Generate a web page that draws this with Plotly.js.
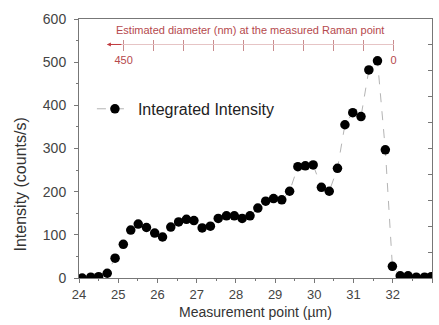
<!DOCTYPE html>
<html>
<head>
<meta charset="utf-8">
<script src="https://cdn.plot.ly/plotly-3.0.1.min.js"></script>
<style>html,body{margin:0;padding:0;background:#fff;}#chart{width:439px;height:325px;}</style>
</head>
<body>
<div id="chart"></div>
<script>
const positions = [24.08, 24.30, 24.50, 24.72, 24.92, 25.13, 25.32, 25.51, 25.72, 25.93,
  26.13, 26.34, 26.54, 26.74, 26.93, 27.14, 27.35, 27.55, 27.76, 27.96,
  28.16, 28.36, 28.56, 28.76, 28.96, 29.17, 29.37, 29.58, 29.77, 29.97,
  30.18, 30.38, 30.59, 30.78, 30.98, 31.19, 31.39, 31.61, 31.81, 31.99,
  32.19, 32.39, 32.60, 32.81, 32.98];
// Integrated intensity (counts/s)
const intensity = [0, 2, 3, 11, 46, 78, 111, 125, 117, 104,
  95, 118, 130, 136, 133, 116, 120, 138, 144, 144,
  138, 144, 162, 178, 184, 181, 201, 258, 260, 262,
  210, 201, 254, 355, 383, 374, 482, 503, 297, 27,
  5, 5, 2, 2, 3];
const seriesName = 'Integrated Intensity';
// Secondary (diameter) axis
const diameterTicks = [0, 50, 100, 150, 200, 250, 300, 350, 400, 450];
const diameterLabels = ['0', '', '', '', '', '', '', '', '', '450'];
const diameterRange = [478, 0];
const xRange = [24, 33];
const yRange = [0, 600];

const red = '#b5494d';
const font = 'Liberation Sans, Arial, sans-serif';

const traces = [
  {
    x: positions, y: intensity, name: seriesName, type: 'scatter', mode: 'lines+markers',
    line: {color: '#b4b4b4', width: 1, dash: 'dash'},
    marker: {color: '#000', size: 9.5},
    xaxis: 'x', yaxis: 'y'
  },
  {x: [], y: [], xaxis: 'x2', yaxis: 'y', showlegend: false, hoverinfo: 'skip', type: 'scatter'},
  {x: [], y: [], xaxis: 'x3', yaxis: 'y', showlegend: false, hoverinfo: 'skip', type: 'scatter'},
  {x: [], y: [], xaxis: 'x', yaxis: 'y2', showlegend: false, hoverinfo: 'skip', type: 'scatter'}
];

const topDomain = [0.079, 0.891];
const topPos = 0.9024;

const layout = {
  width: 439, height: 325,
  margin: {l: 79, r: 7, t: 19, b: 47},
  paper_bgcolor: '#fff', plot_bgcolor: 'rgba(0,0,0,0)',
  font: {family: font, color: '#444'},
  showlegend: true,
  legend: {x: 0.0366, y: 0.653, xanchor: 'left', yanchor: 'middle', bgcolor: 'rgba(0,0,0,0)',
           font: {size: 16, color: '#222'}, itemwidth: 36},
  xaxis: {
    range: xRange, dtick: 1, tick0: 24, ticks: 'outside', ticklen: 4, tickcolor: '#777',
    showline: true, linecolor: '#777', linewidth: 1, mirror: true,
    showgrid: false, zeroline: false,
    tickfont: {size: 13, color: '#444'},
    minor: {dtick: 0.5, ticks: 'outside', ticklen: 2, tickcolor: '#777', showgrid: false},
    title: {text: 'Measurement point (µm)', font: {size: 14, color: '#333'}, standoff: 6}
  },
  yaxis: {
    range: yRange, dtick: 100, ticks: 'outside', ticklen: 4, tickcolor: '#777',
    showline: true, linecolor: '#777', linewidth: 1, mirror: true,
    showgrid: false, zeroline: false, ticklabelstandoff: 5,
    tickfont: {size: 14, color: '#444'},
    minor: {dtick: 50, ticks: 'outside', ticklen: 2, tickcolor: '#777', showgrid: false}
  },
  yaxis2: {
    overlaying: 'y', side: 'right', anchor: 'x', range: [0, 10], dtick: 1,
    ticks: 'inside', ticklen: 4, tickcolor: '#777', showticklabels: false,
    showline: false, showgrid: false, zeroline: false
  },
  xaxis2: {
    domain: topDomain, anchor: 'free', position: topPos, side: 'bottom',
    range: diameterRange, tickvals: diameterTicks, ticktext: diameterLabels,
    ticks: 'outside', ticklen: 6, tickcolor: '#c98b8d',
    showline: true, linecolor: '#e6c4c5', linewidth: 1,
    showgrid: false, zeroline: false,
    tickfont: {size: 11, color: red}
  },
  xaxis3: {
    domain: topDomain, anchor: 'free', position: topPos, side: 'top',
    range: diameterRange, tickvals: diameterTicks,
    ticks: 'outside', ticklen: 4, tickcolor: '#c98b8d', showticklabels: false,
    showline: false, showgrid: false, zeroline: false,
    title: {text: 'Estimated diameter (nm) at the measured Raman point', font: {size: 11, color: red}, standoff: 2}
  },
  annotations: [
    {xref: 'paper', yref: 'paper', x: -0.165, y: 0.36, text: 'Intensity (counts/s)', showarrow: false,
     textangle: -90, font: {size: 16, color: '#333'}, xanchor: 'center', yanchor: 'middle'},
    {xref: 'x2', yref: 'y', x: diameterRange[0], y: 541, text: '', showarrow: true,
     axref: 'pixel', ayref: 'pixel', ax: 16, ay: 0, arrowhead: 2, arrowsize: 0.8,
     arrowwidth: 1, arrowcolor: '#c0393d'}
  ]
};

Plotly.newPlot('chart', traces, layout, {displayModeBar: false, staticPlot: true});
</script>
</body>
</html>
